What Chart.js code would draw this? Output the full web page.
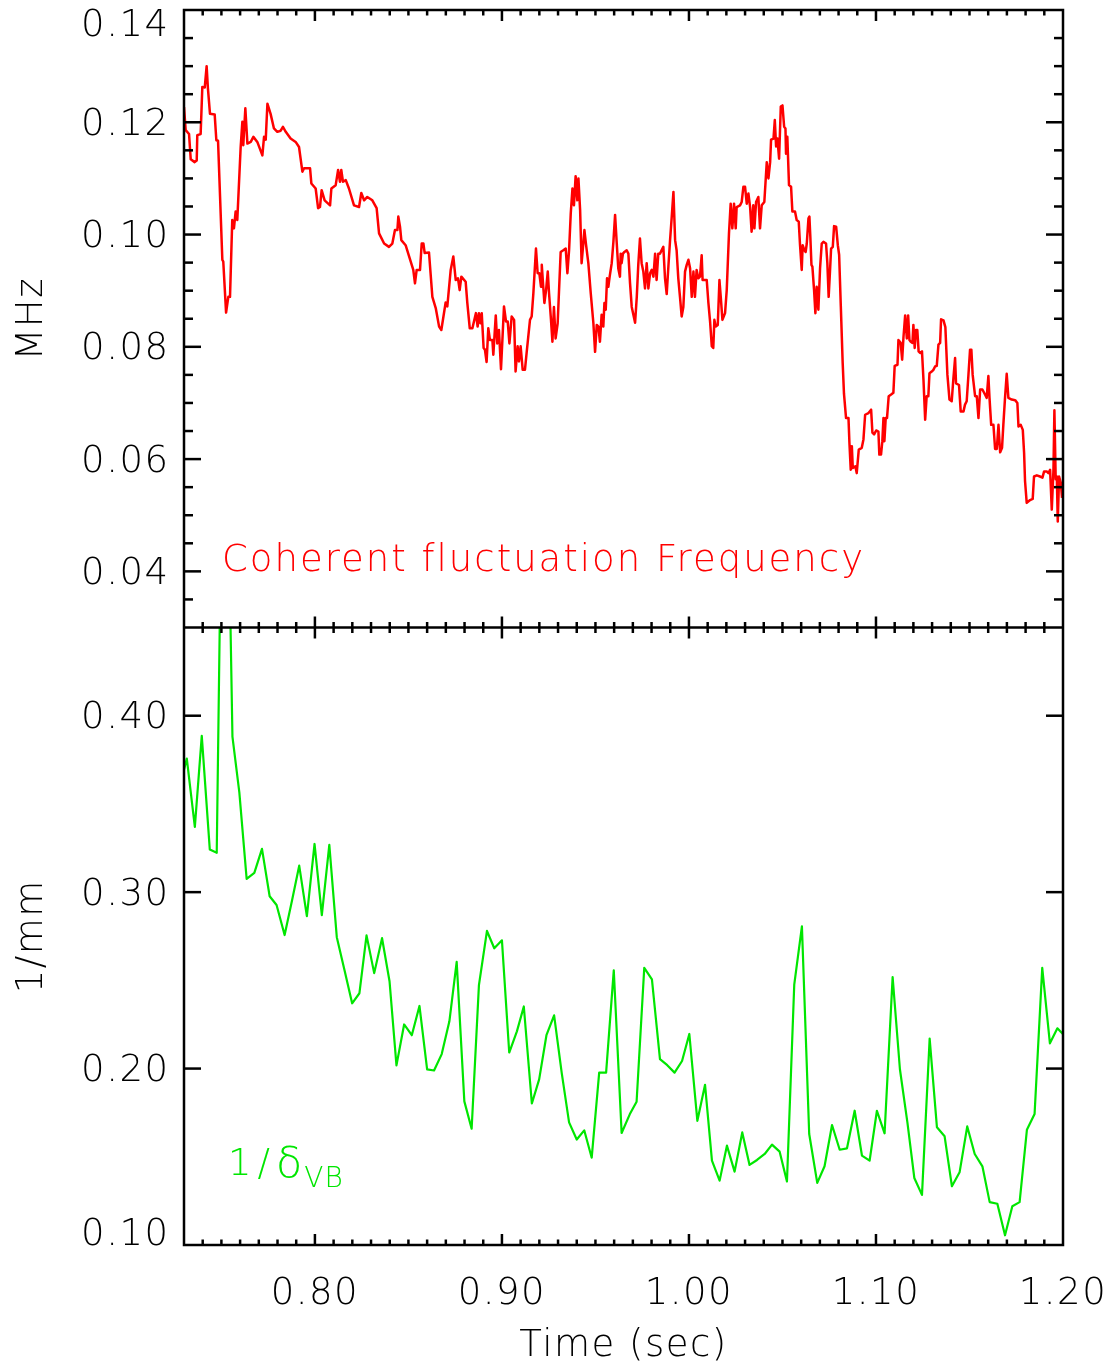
<!DOCTYPE html>
<html>
<head>
<meta charset="utf-8">
<script src="https://cdn.jsdelivr.net/npm/chart.js@4.4.1/dist/chart.umd.min.js"></script>
<style>
  html, body { margin: 0; padding: 0; background: #fff; }
  canvas { display: block; }
</style>
</head>
<body>
<canvas id="plot" width="1110" height="1369"></canvas>
<script>
// red trace: coherent fluctuation frequency (MHz) vs time (sec)
const redTime = [
  0.7300,0.7309,0.7327,0.7336,0.7357,0.7368,0.7371,0.7389,0.7398,0.7411,
  0.7421,0.7428,0.7439,0.7464,0.7473,0.7482,0.7505,0.7510,0.7525,0.7537,
  0.7546,0.7558,0.7567,0.7576,0.7585,0.7603,0.7612,0.7617,0.7628,0.7639,
  0.7657,0.7671,0.7692,0.7719,0.7728,0.7737,0.7746,0.7763,0.7781,0.7799,
  0.7817,0.7829,0.7844,0.7870,0.7897,0.7915,0.7933,0.7942,0.7974,0.7981,
  0.8004,0.8017,0.8027,0.8036,0.8052,0.8081,0.8088,0.8111,0.8124,0.8134,
  0.8141,0.8150,0.8165,0.8182,0.8209,0.8236,0.8248,0.8263,0.8280,0.8307,
  0.8330,0.8343,0.8370,0.8396,0.8414,0.8428,0.8441,0.8446,0.8455,0.8462,
  0.8485,0.8526,0.8535,0.8544,0.8562,0.8571,0.8580,0.8587,0.8610,0.8628,
  0.8646,0.8664,0.8676,0.8699,0.8708,0.8726,0.8740,0.8753,0.8765,0.8774,
  0.8783,0.8806,0.8815,0.8828,0.8842,
  0.8861,0.8870,0.8877,0.8885,0.8892,0.8902,0.8909,0.8918,0.8927,0.8936,
  0.8949,0.8954,0.8967,0.8975,0.8984,0.8995,0.9011,0.9022,0.9031,0.9040,
  0.9052,0.9065,0.9073,0.9084,0.9091,0.9100,0.9111,0.9123,0.9132,0.9150,
  0.9159,0.9168,0.9182,0.9191,0.9200,0.9209,0.9213,0.9221,0.9227,0.9236,
  0.9245,0.9252,0.9261,0.9270,0.9278,0.9287,0.9298,0.9314,0.9328,0.9341,
  0.9350,0.9359,0.9368,0.9377,0.9385,0.9394,0.9403,0.9409,0.9418,0.9426,
  0.9435,0.9441,0.9450,0.9462,0.9475,0.9489,0.9498,0.9507,0.9516,0.9524,
  0.9533,0.9542,0.9548,0.9555,0.9562,0.9569,0.9576,0.9587,0.9596,0.9605,
  0.9614,0.9622,0.9631,0.9635,0.9640,0.9647,0.9655,0.9667,0.9676,0.9685,
  0.9694,0.9712,0.9721,0.9729,0.9738,0.9747,0.9756,0.9765,0.9774,0.9783,
  0.9792,0.9801,0.9810,0.9819,0.9827,0.9836,0.9845,0.9863,0.9872,0.9881,
  0.9890,0.9899,0.9908,0.9917,0.9926,0.9934,0.9943,0.9952,0.9961,0.9970,
  0.9979,0.9988,0.9997,1.0006,1.0015,1.0024,1.0032,1.0041,1.0050,1.0059,
  1.0068,1.0073,1.0095,1.0104,1.0113,1.0122,1.0130,1.0136,1.0143,1.0154,
  1.0163,1.0170,1.0179,1.0193,1.0202,1.0214,1.0223,1.0232,1.0241,1.0250,
  1.0255,1.0273,1.0282,1.0291,1.0300,1.0309,1.0318,1.0327,1.0335,1.0344,
  1.0350,1.0359,1.0371,1.0380,1.0389,1.0403,1.0416,1.0425,1.0434,
  1.0439,1.0452,1.0459,1.0466,1.0473,1.0482,1.0491,1.0500,1.0509,1.0516,
  1.0519,1.0526,1.0535,1.0546,1.0553,1.0567,1.0576,1.0587,1.0594,1.0603,
  1.0608,1.0617,1.0624,1.0630,1.0639,1.0644,1.0649,1.0655,1.0660,1.0669,
  1.0676,1.0683,1.0692,1.0701,1.0710,1.0719,1.0733,1.0740,1.0747,1.0754,
  1.0760,1.0769,1.0776,1.0787,1.0796,1.0803,1.0812,1.0822,1.0829,1.0840,
  1.0853,1.0858,1.0865,1.0871,1.0876,1.0890,1.0897,1.0908,1.0924,1.0933,
  1.0942,1.0960,1.0974,1.0981,1.0990,1.1001,1.1013,1.1018,1.1027,1.1034,
  1.1040,1.1045,1.1052,1.1059,1.1068,1.1081,1.1093,1.1100,1.1115,1.1120,
  1.1132,1.1140,1.1147,1.1156,1.1165,1.1172,1.1179,1.1186,1.1195,1.1200,
  1.1207,1.1214,1.1221,1.1228,1.1236,1.1246,1.1254,1.1263,1.1271,1.1280,
  1.1286,1.1298,1.1307,1.1316,1.1325,1.1334,1.1343,1.1348,1.1361,1.1371,
  1.1382,1.1393,1.1405,1.1414,1.1423,1.1428,1.1444,1.1453,1.1468,1.1476,
  1.1485,1.1494,1.1503,1.1510,1.1517,1.1530,1.1539,1.1548,1.1557,1.1569,
  1.1583,1.1592,1.1601,1.1607,1.1616,1.1628,1.1637,1.1646,1.1655,1.1664,
  1.1674,1.1681,1.1690,1.1699,1.1708,1.1726,1.1744,1.1756,1.1762,1.1774,
  1.1785,1.1792,1.1797,1.1806,1.1824,1.1838,1.1845,1.1860,1.1877,1.1890,
  1.1899,1.1913,1.1922,1.1931,1.1940,1.1949,1.1954,1.1961,1.1967,1.1972,
  1.1979,1.1988,1.1995
];
const redFreq = [
  0.1227,0.1186,0.1179,0.1134,0.1129,0.1132,0.1177,0.1179,0.1263,0.1262,
  0.1300,0.1260,0.1215,0.1214,0.1168,0.1167,0.0955,0.0952,0.0861,0.0889,
  0.0889,0.1026,0.1011,0.1041,0.1026,0.1156,0.1201,0.1159,0.1225,0.1162,
  0.1165,0.1174,0.1165,0.1141,0.1174,0.1169,0.1233,0.1215,0.1189,0.1183,
  0.1185,0.1192,0.1183,0.1171,0.1165,0.1156,0.1112,0.1118,0.1118,0.1091,
  0.1082,0.1047,0.1049,0.1079,0.1061,0.1052,0.1082,0.1088,0.1115,0.1094,
  0.1115,0.1094,0.1097,0.1082,0.1052,0.1049,0.1074,0.1061,0.1067,0.1061,
  0.1047,0.1002,0.0984,0.0978,0.0984,0.1008,0.1008,0.1032,0.1014,0.0990,
  0.0981,0.0937,0.0913,0.0937,0.0937,0.0984,0.0984,0.0967,0.0968,0.0889,
  0.0869,0.0836,0.0830,0.0879,0.0872,0.0937,0.0961,0.0919,0.0922,0.0901,
  0.0925,0.0916,0.0878,0.0833,0.0833,
  0.0860,0.0836,0.0860,0.0842,0.0860,0.0798,0.0795,0.0773,0.0833,0.0812,
  0.0812,0.0786,0.0856,0.0806,0.0830,0.0760,0.0872,0.0845,0.0845,0.0806,
  0.0854,0.0848,0.0756,0.0801,0.0774,0.0801,0.0759,0.0759,0.0789,0.0848,
  0.0854,0.0895,0.0975,0.0931,0.0931,0.0907,0.0946,0.0907,0.0878,0.0901,
  0.0934,0.0895,0.0854,0.0809,0.0871,0.0815,0.0842,0.0969,0.0972,0.0975,
  0.0931,0.0972,0.1038,0.1082,0.1052,0.1104,0.1061,0.1100,0.1044,0.0949,
  0.0984,0.1008,0.0981,0.0949,0.0895,0.0842,0.0791,0.0839,0.0836,0.0809,
  0.0857,0.0836,0.0878,0.0866,0.0922,0.0907,0.0925,0.0949,0.0987,0.1035,
  0.0984,0.0940,0.0925,0.0966,0.0949,0.0966,0.0969,0.0972,0.0966,0.0913,
  0.0871,0.0843,0.0889,0.0946,0.0993,0.0949,0.0934,0.0904,0.0949,0.0904,
  0.0931,0.0937,0.0925,0.0966,0.0919,0.0966,0.0966,0.0978,0.0922,0.0894,
  0.0943,0.0990,0.1032,0.1076,0.0990,0.0972,0.0922,0.0889,0.0854,0.0871,
  0.0934,0.0946,0.0955,0.0940,0.0889,0.0934,0.0889,0.0937,0.0922,0.0925,
  0.0963,0.0919,0.0919,0.0878,0.0845,0.0801,0.0798,0.0848,0.0836,0.0839,
  0.0919,0.0889,0.0848,0.0860,0.0901,0.1002,0.1055,0.1011,0.1055,0.1011,
  0.1049,0.1052,0.1058,0.1085,0.1085,0.1055,0.1073,0.1049,0.1005,0.1052,
  0.1011,0.1058,0.1067,0.1011,0.1052,0.1058,0.1129,0.1100,0.1129,
  0.1169,0.1171,0.1204,0.1157,0.1171,0.1135,0.1228,0.1230,0.1192,0.1189,
  0.1144,0.1174,0.1088,0.1085,0.1041,0.1041,0.1026,0.1023,0.0981,0.0937,
  0.0981,0.0972,0.0969,0.0984,0.1029,0.1032,0.0996,0.0946,0.0943,0.0901,
  0.0860,0.0907,0.0866,0.0940,0.0984,0.0987,0.0984,0.0949,0.0889,0.0934,
  0.0975,0.0978,0.1015,0.1014,0.0981,0.0964,0.0872,0.0771,0.0716,0.0673,
  0.0673,0.0629,0.0581,0.0623,0.0584,0.0587,0.0575,0.0617,0.0620,0.0635,
  0.0679,0.0682,0.0688,0.0647,0.0644,0.0651,0.0649,0.0608,0.0608,0.0632,
  0.0673,0.0632,0.0673,0.0673,0.0712,0.0715,0.0718,0.0766,0.0768,0.0812,
  0.0807,0.0777,0.0817,0.0856,0.0815,0.0856,0.0812,0.0809,0.0807,0.0839,
  0.0798,0.0830,0.0830,0.0792,0.0789,0.0792,0.0741,0.0670,0.0712,0.0712,
  0.0753,0.0756,0.0759,0.0765,0.0766,0.0804,0.0807,0.0849,0.0847,0.0835,
  0.0750,0.0706,0.0703,0.0744,0.0780,0.0735,0.0732,0.0685,0.0685,0.0697,
  0.0703,0.0748,0.0795,0.0795,0.0750,0.0712,0.0712,0.0673,0.0724,0.0724,
  0.0715,0.0709,0.0748,0.0709,0.0661,0.0661,0.0618,0.0618,0.0661,0.0612,
  0.0620,0.0661,0.0709,0.0752,0.0709,0.0706,0.0705,0.0700,0.0658,0.0661,
  0.0652,0.0611,0.0561,0.0522,0.0527,0.0529,0.0569,0.0571,0.0569,0.0567,
  0.0578,0.0578,0.0575,0.0581,0.0510,0.0581,0.0687,0.0564,0.0569,0.0489,
  0.0569,0.0558,0.0531
];

// green trace: 1/delta_VB (1/mm) vs time (sec)
const greenTime = [
  0.7278,0.7315,0.7358,0.7395,0.7438,0.7475,0.7516,0.7559,0.7596,0.7635,
  0.7676,0.7717,0.7758,0.7795,0.7838,0.7877,0.7916,0.7957,0.7998,0.8037,
  0.8077,0.8117,0.8158,0.8199,0.8238,0.8276,0.8317,0.8359,0.8399,0.8436,
  0.8477,0.8518,0.8559,0.8600,0.8637,0.8678,0.8719,0.8758,0.8799,0.8838,
  0.8877,0.8920,0.8959,0.9000,0.9039,0.9080,0.9117,0.9160,0.9199,0.9238,
  0.9279,0.9320,0.9359,0.9400,0.9440,0.9480,0.9520,0.9557,0.9598,0.9640,
  0.9684,0.9720,0.9761,0.9802,0.9845,0.9884,0.9923,0.9963,1.0002,1.0045,
  1.0086,1.0123,1.0164,1.0203,1.0244,1.0285,1.0324,1.0364,1.0405,1.0444,
  1.0485,1.0524,1.0563,1.0604,1.0643,1.0686,1.0725,1.0765,1.0806,1.0845,
  1.0886,1.0925,1.0966,1.1005,1.1046,1.1089,1.1128,1.1168,1.1205,1.1246,
  1.1287,1.1326,1.1367,1.1406,1.1447,1.1488,1.1528,1.1569,1.1608,1.1649,
  1.1690,1.1729,1.1768,1.1807,1.1848,1.1889,1.1930,1.1970,1.2007
];
const greenInv = [
  0.3600,0.3757,0.3370,0.3886,0.3241,0.3223,0.6500,0.3882,0.3564,0.3075,
  0.3109,0.3245,0.2977,0.2927,0.2757,0.2950,0.3150,0.2864,0.3273,0.2870,
  0.3268,0.2745,0.2559,0.2370,0.2427,0.2755,0.2541,0.2739,0.2495,0.2018,
  0.2250,0.2189,0.2355,0.1995,0.1989,0.2082,0.2268,0.2605,0.1814,0.1659,
  0.2473,0.2780,0.2682,0.2727,0.2091,0.2211,0.2352,0.1802,0.1939,0.2189,
  0.2302,0.1973,0.1695,0.1598,0.1650,0.1495,0.1977,0.1977,0.2557,0.1635,
  0.1742,0.1812,0.2571,0.2505,0.2053,0.2019,0.1977,0.2043,0.2196,0.1704,
  0.1908,0.1478,0.1365,0.1563,0.1416,0.1638,0.1454,0.1482,0.1516,0.1569,
  0.1529,0.1360,0.2476,0.2806,0.1629,0.1352,0.1446,0.1680,0.1540,0.1548,
  0.1761,0.1507,0.1478,0.1761,0.1633,0.2518,0.1996,0.1695,0.1380,0.1284,
  0.2170,0.1667,0.1616,0.1333,0.1412,0.1672,0.1516,0.1446,0.1243,0.1234,
  0.1055,0.1220,0.1243,0.1653,0.1742,0.2571,0.2143,0.2228,0.2188
];

const timeTicks = [0.80, 0.90, 1.00, 1.10, 1.20];
const freqTicks = [0.04, 0.06, 0.08, 0.10, 0.12, 0.14];
const invTicks = [0.10, 0.20, 0.30, 0.40];

const FONT = 'DejaVu Sans';
const RED = '#ff0000';
const GREEN = '#00e600';

function seg(ctx, x1, y1, x2, y2) {
  ctx.beginPath();
  ctx.moveTo(x1, y1);
  ctx.lineTo(x2, y2);
  ctx.stroke();
}

// the labels at the ends of a panel sit inside it, as in the original
function edgeLabel(v) {
  const s = v.toFixed(2);
  if (Math.abs(v - this.max) < 1e-9) return ['', s];
  if (Math.abs(v - this.min) < 1e-9) return [s, ''];
  return s;
}

const panels = {
  id: 'panels',
  beforeDraw(chart) {
    chart.ctx.letterSpacing = '1.5px';
  },
  // keep each trace inside its own panel
  beforeDatasetDraw(chart, args) {
    const ys = args.meta.yScale, a = chart.chartArea, ctx = chart.ctx;
    ctx.save();
    ctx.beginPath();
    ctx.rect(a.left, ys.top, a.right - a.left, ys.bottom - ys.top);
    ctx.clip();
  },
  afterDatasetDraw(chart) {
    chart.ctx.restore();
  },
  afterDraw(chart) {
    const {ctx, chartArea: a} = chart;
    const {x, yFreq, yInv} = chart.scales;
    const mid = yFreq.bottom;
    ctx.save();
    ctx.strokeStyle = '#000';
    ctx.lineWidth = 2.5;
    ctx.strokeRect(a.left, a.top, a.right - a.left, a.bottom - a.top);
    seg(ctx, a.left, mid, a.right, mid);

    // time ticks, every 0.01 with long ones every 0.1
    for (let k = 74; k < 120; k++) {
      const px = x.getPixelForValue(k / 100);
      const len = k % 10 === 0 ? 11 : 5.5;
      seg(ctx, px, a.top, px, a.top + len);
      seg(ctx, px, mid, px, mid - len);
      seg(ctx, px, mid, px, mid + len);
      seg(ctx, px, a.bottom, px, a.bottom - len);
    }
    // MHz ticks every 0.005
    for (let k = 35; k < 140; k += 5) {
      const py = yFreq.getPixelForValue(k / 1000);
      const len = k % 20 === 0 ? 17 : 9;
      seg(ctx, a.left, py, a.left + len, py);
      seg(ctx, a.right, py, a.right - len, py);
    }
    // 1/mm ticks
    invTicks.forEach(v => {
      if (v <= yInv.min) return;
      const py = yInv.getPixelForValue(v);
      seg(ctx, a.left, py, a.left + 17, py);
      seg(ctx, a.right, py, a.right - 17, py);
    });

    // panel captions
    ctx.textAlign = 'left';
    ctx.textBaseline = 'alphabetic';
    ctx.font = `200 37px "${FONT}"`;
    ctx.letterSpacing = '2px';
    ctx.fillStyle = RED;
    ctx.fillText('Coherent fluctuation Frequency',
      x.getPixelForValue(0.7503), yFreq.getPixelForValue(0.0401));

    ctx.fillStyle = GREEN;
    let gx = x.getPixelForValue(0.7535);
    const gy = yInv.getPixelForValue(0.1397);
    ctx.letterSpacing = '6px';
    ctx.fillText('1/', gx, gy);
    gx += ctx.measureText('1/').width;
    ctx.letterSpacing = '1px';
    ctx.font = `200 43px "${FONT}"`;
    ctx.fillText('δ', gx, gy + 2);
    gx += ctx.measureText('δ').width;
    ctx.font = `200 28px "${FONT}"`;
    ctx.fillText('VB', gx + 1, gy + 12);
    ctx.restore();
  }
};

const tickFont = {family: FONT, size: 37, weight: 200};
const yTickFont = {family: FONT, size: 37, weight: 200, lineHeight: 0.7};
const titleFont = {family: FONT, size: 37, weight: 200};

function fixWidth(s) {
  s.width = 184;
  s.paddingTop = 0;
  s.paddingBottom = 0;
}

new Chart(document.getElementById('plot'), {
  type: 'line',
  data: {
    datasets: [
      {
        label: 'Coherent fluctuation Frequency',
        data: redTime.map((t, i) => ({x: t, y: redFreq[i]})),
        yAxisID: 'yFreq',
        borderColor: RED,
        borderWidth: 2.5,
        borderJoinStyle: 'round',
        pointRadius: 0,
        tension: 0
      },
      {
        label: '1/δVB',
        data: greenTime.map((t, i) => ({x: t, y: greenInv[i]})),
        yAxisID: 'yInv',
        borderColor: GREEN,
        borderWidth: 2.2,
        borderJoinStyle: 'round',
        pointRadius: 0,
        tension: 0
      }
    ]
  },
  options: {
    responsive: false,
    animation: false,
    devicePixelRatio: 1,
    events: [],
    layout: {padding: {top: 10, right: 47, left: 0, bottom: 0}},
    plugins: {legend: {display: false}, tooltip: {enabled: false}},
    scales: {
      x: {
        type: 'linear',
        position: 'bottom',
        min: 0.73,
        max: 1.20,
        grid: {display: false, drawTicks: false},
        border: {display: false},
        afterBuildTicks: s => { s.ticks = timeTicks.map(v => ({value: v})); },
        afterFit: s => { s.height = 124; s.paddingLeft = 0; s.paddingRight = 0; },
        ticks: {
          autoSkip: false,
          maxRotation: 0,
          padding: 27,
          color: '#000',
          font: tickFont,
          callback: v => v.toFixed(2)
        },
        title: {
          display: true,
          text: 'Time (sec)',
          color: '#000',
          font: titleFont,
          padding: {top: 0, bottom: 0}
        }
      },
      yFreq: {
        type: 'linear',
        position: 'left',
        stack: 'panels',
        stackWeight: 1,
        weight: 2,
        min: 0.03,
        max: 0.14,
        grid: {display: false, drawTicks: false},
        border: {display: false},
        afterBuildTicks: s => { s.ticks = freqTicks.map(v => ({value: v})); },
        afterFit: fixWidth,
        ticks: {padding: 14.5, labelOffset: 3, color: '#000', font: yTickFont, callback: edgeLabel},
        title: {display: true, text: 'MHz', color: '#000', font: titleFont, padding: {top: 10, bottom: 0}}
      },
      yInv: {
        type: 'linear',
        position: 'left',
        stack: 'panels',
        stackWeight: 1,
        weight: 1,
        min: 0.10,
        max: 0.45,
        grid: {display: false, drawTicks: false},
        border: {display: false},
        afterBuildTicks: s => { s.ticks = invTicks.map(v => ({value: v})); },
        afterFit: fixWidth,
        ticks: {padding: 14.5, labelOffset: 3, color: '#000', font: yTickFont, callback: edgeLabel},
        title: {display: true, text: '1/mm', color: '#000', font: titleFont, padding: {top: 10, bottom: 0}}
      }
    }
  },
  plugins: [panels]
});
</script>
</body>
</html>
